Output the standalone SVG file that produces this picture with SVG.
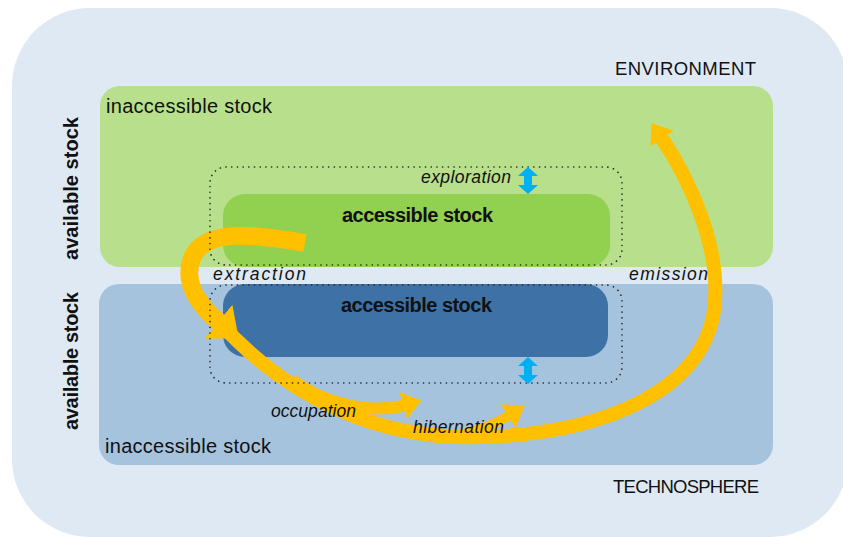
<svg xmlns="http://www.w3.org/2000/svg" width="843" height="537" viewBox="0 0 843 537">
<style>
.lbl{font-family:"Liberation Sans",Arial,sans-serif;font-size:20px;fill:#111}
.cap{font-size:18.5px}
.bold{font-weight:bold}
.it{font-family:"Liberation Sans",Arial,sans-serif;font-size:17.5px;font-style:italic;fill:#111}
.dot{fill:none;stroke:#222;stroke-width:1.6;stroke-dasharray:0.1 5.6;stroke-linecap:round}
.flow{fill:none;stroke:#ffc000;stroke-linecap:butt}
.cyan{fill:#00b0f0}
</style>
<defs>
<marker id="headBig" viewBox="0 -24 28 48" refX="2" refY="0" markerWidth="28" markerHeight="48" markerUnits="userSpaceOnUse" orient="auto">
<path d="M0,-22 L26,0 L0,22 Z" fill="#ffc000"/>
</marker>
<marker id="headSmall" viewBox="0 -16 22 32" refX="2" refY="0" markerWidth="22" markerHeight="32" markerUnits="userSpaceOnUse" orient="auto">
<path d="M0,-14 L19,0 L0,14 Z" fill="#ffc000"/>
</marker>
<path id="dbl" d="M0,0 L10,9 L4,9 L4,18 L10,18 L0,27 L-10,18 L-4,18 L-4,9 L-10,9 Z"/>
</defs>

<g id="background">
<rect x="12" y="8" width="836" height="529" rx="78" ry="78" fill="#dfe9f3"/>
</g>

<g id="env-inaccessible">
<rect x="100" y="86" width="673" height="181" rx="20" fill="#b8df8b"/>
</g>
<g id="tech-inaccessible">
<rect x="99" y="284" width="674" height="181" rx="20" fill="#a6c3dd"/>
</g>
<g id="env-accessible">
<rect x="223" y="194" width="387" height="73" rx="22" fill="#92d050"/>
</g>
<g id="tech-accessible">
<rect x="223" y="284" width="385" height="73" rx="22" fill="#3e72a6"/>
</g>

<g id="connectors">
<path class="flow" stroke-width="14" d="M218,321 C290,400 380,440 480,437 C600,434 710,392 715,300 C719,245 690,180 661,137" marker-end="url(#headSmall)"/>
<path class="flow" stroke-width="12" d="M292,380 C325,405 372,414 405,405" marker-end="url(#headSmall)"/>
<path class="flow" stroke-width="10" d="M440,437 C472,435 494,425 510,415" marker-end="url(#headSmall)"/>
<path class="flow" stroke-width="18" stroke-linecap="round" d="M305,243 C255,234 205,228 192,258 C183,282 198,305 220,323" marker-end="url(#headBig)"/>
</g>

<g id="env-accessible-boundary">
<rect class="dot" x="210" y="167" width="412" height="98" rx="16"/>
</g>
<g id="tech-accessible-boundary">
<rect class="dot" x="210" y="285" width="412" height="98" rx="16"/>
</g>

<g id="exploration-arrows">
<use href="#dbl" class="cyan" x="528" y="167"/>
<use href="#dbl" class="cyan" x="528" y="357"/>
</g>

<g id="labels">
<text class="lbl cap" x="615" y="75" textLength="141">ENVIRONMENT</text>
<text class="lbl cap" x="613" y="493" textLength="146">TECHNOSPHERE</text>
<text class="lbl" x="106" y="113" textLength="166">inaccessible stock</text>
<text class="lbl" x="105" y="453" textLength="166">inaccessible stock</text>
<text class="lbl bold" x="342" y="222" textLength="151">accessible stock</text>
<text class="lbl bold" x="341" y="312" textLength="151">accessible stock</text>
<text class="lbl bold" transform="translate(78,260) rotate(-90)" textLength="143">available stock</text>
<text class="lbl bold" transform="translate(78,430) rotate(-90)" textLength="138">available stock</text>
<text class="it" x="421" y="183" textLength="90">exploration</text>
<text class="it" x="213" y="280" textLength="93">extraction</text>
<text class="it" x="629" y="280" textLength="79">emission</text>
<text class="it" x="271" y="417" textLength="85">occupation</text>
<text class="it" x="413" y="433" textLength="91">hibernation</text>
</g>
</svg>
